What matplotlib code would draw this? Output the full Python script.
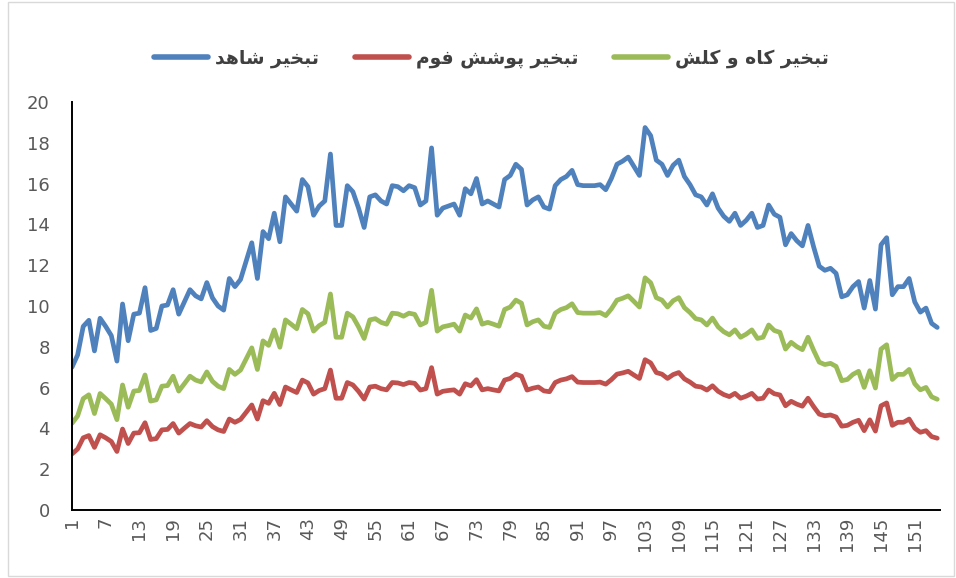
import matplotlib
matplotlib.use("Agg")
import matplotlib.pyplot as plt
from matplotlib.lines import Line2D

# ==========================================
# DATA
# ==========================================

days = list(range(1, 156))

shahed = [
    7.0, 7.6, 9.0, 9.3, 7.8, 9.4, 9.0, 8.55, 7.3, 10.1,
    8.3, 9.6, 9.65, 10.9, 8.8, 8.9, 10.0, 10.05, 10.8, 9.6,
    10.2, 10.8, 10.5, 10.35, 11.15, 10.4, 10.0, 9.8, 11.35, 10.95,
    11.3, 12.2, 13.1, 11.35, 13.65, 13.3, 14.55, 13.15, 15.35, 15.0,
    14.65, 16.2, 15.85, 14.45, 14.9, 15.15, 17.45, 13.95, 13.95, 15.9,
    15.6, 14.8, 13.85, 15.35, 15.45, 15.15, 15.0, 15.9, 15.85, 15.65,
    15.9, 15.8, 14.95, 15.15, 17.75, 14.45, 14.8, 14.9, 15.0, 14.45,
    15.75, 15.5, 16.25, 15.0, 15.15, 15.0, 14.85, 16.2, 16.4, 16.95,
    16.7, 14.95, 15.2, 15.35, 14.85, 14.75, 15.9, 16.2, 16.35, 16.65,
    15.95, 15.9, 15.9, 15.9, 15.95, 15.7, 16.25, 16.95, 17.1, 17.3,
    16.85, 16.4, 18.75, 18.35, 17.15, 16.95, 16.4, 16.9, 17.15, 16.35,
    15.95, 15.45, 15.35, 14.95, 15.5, 14.8, 14.4, 14.15, 14.55, 13.95,
    14.2, 14.55, 13.85, 13.95, 14.95, 14.5, 14.35, 13.0, 13.55, 13.2,
    12.95, 13.95, 12.9, 11.95, 11.75, 11.85, 11.6, 10.45, 10.55, 10.95,
    11.2, 9.9, 11.25, 9.85, 13.0, 13.35, 10.55, 10.95, 10.95, 11.35,
    10.2, 9.7, 9.9, 9.15, 8.95,
]

foam = [
    2.75, 2.99, 3.54, 3.65, 3.07, 3.69, 3.54, 3.36, 2.87, 3.97,
    3.26, 3.77, 3.79, 4.28, 3.46, 3.50, 3.93, 3.95, 4.24, 3.77,
    4.01, 4.24, 4.13, 4.07, 4.38, 4.09, 3.93, 3.85, 4.46, 4.30,
    4.44, 4.79, 5.15, 4.46, 5.36, 5.23, 5.72, 5.17, 6.03, 5.89,
    5.76, 6.37, 6.23, 5.68, 5.86, 5.95, 6.86, 5.48, 5.48, 6.25,
    6.13, 5.82, 5.44, 6.03, 6.07, 5.95, 5.89, 6.25, 6.23, 6.15,
    6.25, 6.21, 5.88, 5.95, 6.98, 5.68, 5.82, 5.86, 5.89, 5.68,
    6.19, 6.09, 6.39, 5.89, 5.95, 5.89, 5.84, 6.37, 6.45, 6.66,
    6.56, 5.88, 5.97, 6.03, 5.84, 5.80, 6.25, 6.37, 6.43, 6.54,
    6.27, 6.25, 6.25, 6.25, 6.27, 6.17, 6.39, 6.66, 6.72, 6.80,
    6.62, 6.45, 7.37, 7.21, 6.74, 6.66, 6.45, 6.64, 6.74, 6.43,
    6.27, 6.07, 6.03, 5.88, 6.09, 5.82, 5.66, 5.56, 5.72, 5.48,
    5.58, 5.72, 5.44, 5.48, 5.88, 5.70, 5.64, 5.11, 5.33, 5.19,
    5.09, 5.48, 5.07, 4.70, 4.62, 4.66, 4.56, 4.11, 4.15, 4.30,
    4.40, 3.89, 4.42, 3.87, 5.11, 5.25, 4.15, 4.30, 4.30, 4.46,
    4.01, 3.81, 3.89, 3.60, 3.52,
]

straw = [
    4.25, 4.61, 5.46, 5.65, 4.73, 5.71, 5.46, 5.19, 4.43, 6.13,
    5.04, 5.83, 5.86, 6.62, 5.34, 5.40, 6.07, 6.10, 6.56, 5.83,
    6.19, 6.56, 6.37, 6.28, 6.77, 6.31, 6.07, 5.95, 6.89, 6.65,
    6.86, 7.41, 7.95, 6.89, 8.29, 8.07, 8.83, 7.98, 9.32, 9.11,
    8.89, 9.83, 9.62, 8.77, 9.04, 9.20, 10.59, 8.47, 8.47, 9.65,
    9.47, 8.98, 8.41, 9.32, 9.38, 9.20, 9.11, 9.65, 9.62, 9.50,
    9.65, 9.59, 9.07, 9.20, 10.77, 8.77, 8.98, 9.04, 9.11, 8.77,
    9.56, 9.41, 9.86, 9.11, 9.20, 9.11, 9.01, 9.83, 9.95, 10.29,
    10.14, 9.07, 9.23, 9.32, 9.01, 8.95, 9.65, 9.83, 9.92, 10.11,
    9.68, 9.65, 9.65, 9.65, 9.68, 9.53, 9.86, 10.29, 10.38, 10.50,
    10.23, 9.95, 11.38, 11.14, 10.41, 10.29, 9.95, 10.26, 10.41, 9.92,
    9.68, 9.38, 9.32, 9.07, 9.41, 8.98, 8.74, 8.59, 8.83, 8.47,
    8.62, 8.83, 8.41, 8.47, 9.07, 8.80, 8.71, 7.89, 8.22, 8.01,
    7.86, 8.47, 7.83, 7.25, 7.13, 7.19, 7.04, 6.34, 6.40, 6.65,
    6.80, 6.01, 6.83, 5.98, 7.89, 8.10, 6.40, 6.65, 6.65, 6.89,
    6.19, 5.89, 6.01, 5.55, 5.43,
]

names = ["تبخیر شاهد", "تبخیر پوشش فوم", "تبخیر کاه و کلش"]
colors = ["#4F81BD", "#C0504D", "#9BBB59"]

# ==========================================
# Persian shaping (matplotlib has no bidi)
# ==========================================

FORMS = {
    "ا": ("\uFE8D", "\uFE8E", None, None),
    "ب": ("\uFE8F", "\uFE90", "\uFE91", "\uFE92"),
    "پ": ("\uFB56", "\uFB57", "\uFB58", "\uFB59"),
    "ت": ("\uFE95", "\uFE96", "\uFE97", "\uFE98"),
    "خ": ("\uFEA5", "\uFEA6", "\uFEA7", "\uFEA8"),
    "د": ("\uFEA9", "\uFEAA", None, None),
    "ر": ("\uFEAD", "\uFEAE", None, None),
    "ش": ("\uFEB5", "\uFEB6", "\uFEB7", "\uFEB8"),
    "ف": ("\uFED1", "\uFED2", "\uFED3", "\uFED4"),
    "ک": ("\uFB8E", "\uFB8F", "\uFB90", "\uFB91"),
    "ل": ("\uFEDD", "\uFEDE", "\uFEDF", "\uFEE0"),
    "م": ("\uFEE1", "\uFEE2", "\uFEE3", "\uFEE4"),
    "ه": ("\uFEE9", "\uFEEA", "\uFEEB", "\uFEEC"),
    "و": ("\uFEED", "\uFEEE", None, None),
    "ی": ("\uFBFC", "\uFBFD", "\uFBFE", "\uFBFF"),
}


def shape(text):
    out = []
    for i, ch in enumerate(text):
        if ch not in FORMS:
            out.append(ch)
            continue
        prev = text[i - 1] if i > 0 else ""
        nxt = text[i + 1] if i + 1 < len(text) else ""
        join_prev = prev in FORMS and FORMS[prev][2] is not None
        join_next = nxt in FORMS and FORMS[ch][2] is not None
        iso, fin, ini, med = FORMS[ch]
        if join_prev and join_next:
            out.append(med)
        elif join_prev:
            out.append(fin)
        elif join_next:
            out.append(ini)
        else:
            out.append(iso)
    return "".join(out)[::-1]


# ==========================================
# PLOT
# ==========================================

plt.rcParams["font.family"] = ["DejaVu Sans"]

fig = plt.figure(figsize=(9.56, 5.78), dpi=100)
ax = fig.add_axes([0.0753, 0.1176, 0.908, 0.7059])

for series, col in zip([shahed, foam, straw], colors):
    ax.plot(days, series, color=col, linewidth=3.4, solid_joinstyle="round",
            solid_capstyle="round")

ax.set_xlim(1, 155.5)
ax.set_ylim(0, 20)
ax.set_yticks(range(0, 21, 2))
ax.set_xticks(days[::6])
ax.set_xticklabels([str(d) for d in days[::6]], rotation=90)

ax.tick_params(axis="both", length=0, labelsize=13, colors="#595959")
ax.tick_params(axis="y", pad=16)
ax.tick_params(axis="x", pad=5)

for side in ["top", "right"]:
    ax.spines[side].set_visible(False)
for side in ["left", "bottom"]:
    ax.spines[side].set_color("black")
    ax.spines[side].set_linewidth(1.4)

handles = [Line2D([], [], color=c, linewidth=4, solid_capstyle="round")
           for c in colors]
leg = fig.legend(handles, [shape(n) for n in names], ncol=3,
                 loc="center", bbox_to_anchor=(0.514, 0.899), frameon=False,
                 handlelength=2.9, handletextpad=0.37, columnspacing=1.9,
                 prop={"weight": "bold", "size": 13.5})
for t in leg.get_texts():
    t.set_color("#404040")

# Rahmen
fig.patches.append(plt.Rectangle((0.008, 0.004), 0.99, 0.992,
                                 transform=fig.transFigure, fill=False,
                                 edgecolor="#D9D9D9", linewidth=1))

fig.savefig("out.png", dpi=100)
